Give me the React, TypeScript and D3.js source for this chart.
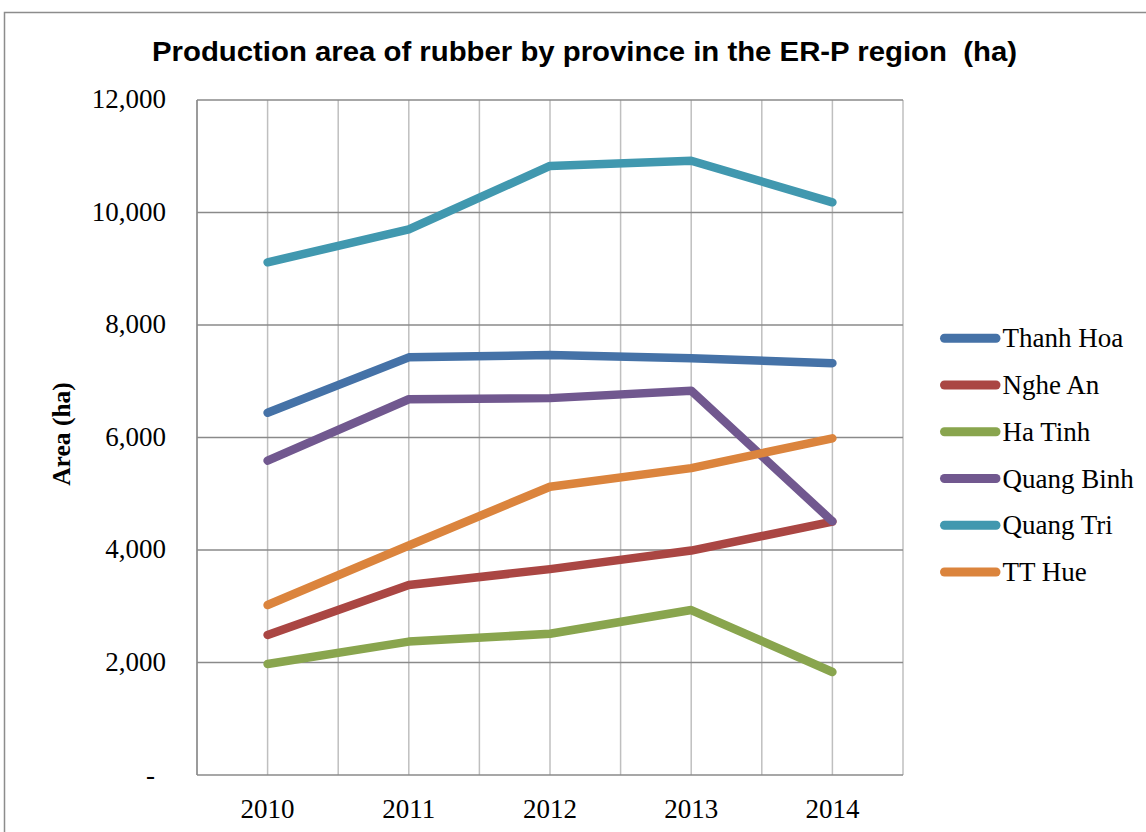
import React from "react";
import * as d3 from "d3";

const years = ["2010", "2011", "2012", "2013", "2014"];
const seriesNames = ["Thanh Hoa", "Nghe An", "Ha Tinh", "Quang Binh", "Quang Tri", "TT Hue"];
const thanhHoa = [6440, 7425, 7465, 7410, 7320];
const ngheAn = [2490, 3378, 3660, 3990, 4505];
const haTinh = [1973, 2372, 2510, 2933, 1831];
const quangBinh = [5588, 6680, 6700, 6832, 4510];
const quangTri = [9114, 9700, 10827, 10920, 10181];
const ttHue = [3022, 4080, 5125, 5455, 5986];
const seriesColors = ["#4572A7", "#AA4643", "#89A54E", "#71588F", "#4198AF", "#DB843D"];
const yTicks = [0, 2000, 4000, 6000, 8000, 10000, 12000];

const seriesValues = [thanhHoa, ngheAn, haTinh, quangBinh, quangTri, ttHue];

export default function App() {
  const W = 1146, H = 832;
  const left = 197, right = 903, top = 100, bottom = 775;
  const x = d3.scaleBand<string>().domain(years).range([left, right]);
  const cx = (c: string) => (x(c) as number) + x.bandwidth() / 2;
  const y = d3.scaleLinear().domain([0, 12000]).range([bottom, top]);
  const line = d3
    .line<number>()
    .x((_, i) => cx(years[i]))
    .y((d) => y(d));

  const vLines: number[] = [];
  years.forEach((c) => {
    vLines.push(x(c) as number);
    vLines.push(cx(c));
  });
  vLines.push(right);

  const fmt = d3.format(",");
  const serif = "'Liberation Serif', 'Times New Roman', serif";

  return (
    <svg
      width={W}
      height={H}
      style={{ position: "absolute", left: 0, top: 0, background: "#fff" }}
    >
      <rect x={4.5} y={12.5} width={W + 10} height={H + 10} fill="#fff" stroke="#8c8c8c" strokeWidth={1.5} />
      <text
        x={584.5}
        y={61}
        textAnchor="middle"
        fontFamily="'Liberation Sans', Arial, sans-serif"
        fontWeight="bold"
        fontSize={28}
        textLength={865}
        lengthAdjust="spacingAndGlyphs"
        fill="#000"
        style={{ whiteSpace: "pre" }}
      >
        {"Production area of rubber by province in the ER-P region\u00A0 (ha)"}
      </text>
      {/* vertical gridlines */}
      {vLines.map((vx, i) => (
        <line key={"v" + i} x1={vx} x2={vx} y1={top} y2={bottom} stroke="#bfbfbf" strokeWidth={1.5} />
      ))}
      {/* horizontal gridlines */}
      {yTicks.filter((t) => t > 0).map((t) => (
        <line key={"h" + t} x1={left} x2={right} y1={y(t)} y2={y(t)} stroke="#8a8a8a" strokeWidth={1.5} />
      ))}
      {/* axes */}
      <line x1={left} x2={left} y1={top} y2={bottom} stroke="#8a8a8a" strokeWidth={1.5} />
      <line x1={left} x2={right} y1={bottom} y2={bottom} stroke="#8a8a8a" strokeWidth={1.5} />
      {/* y tick labels */}
      {yTicks.map((t) =>
        t === 0 ? (
          <text key={"yl" + t} x={155} y={y(t) + 9} textAnchor="end" fontFamily={serif} fontSize={27} fill="#000">
            -
          </text>
        ) : (
          <text key={"yl" + t} x={166} y={y(t) + 8} textAnchor="end" fontFamily={serif} fontSize={27} fill="#000">
            {fmt(t)}
          </text>
        )
      )}
      {/* x labels */}
      {years.map((c) => (
        <text key={"xl" + c} x={cx(c)} y={818} textAnchor="middle" fontFamily={serif} fontSize={27} fill="#000">
          {c}
        </text>
      ))}
      {/* y axis title */}
      <text
        transform={`translate(70, 434) rotate(-90)`}
        textAnchor="middle"
        fontFamily={serif}
        fontWeight="bold"
        fontSize={25.5}
        fill="#000"
      >
        Area (ha)
      </text>
      {/* series */}
      {seriesValues.map((vals, i) => (
        <path
          key={"s" + i}
          d={line(vals) as string}
          fill="none"
          stroke={seriesColors[i]}
          strokeWidth={8.5}
          strokeLinecap="round"
          strokeLinejoin="round"
        />
      ))}
      {/* legend */}
      {seriesNames.map((n, i) => {
        const ly = 338.3 + i * 46.75;
        return (
          <g key={"lg" + i}>
            <line x1={944.5} x2={996} y1={ly} y2={ly} stroke={seriesColors[i]} strokeWidth={9} strokeLinecap="round" />
            <text x={1002.5} y={ly + 9} fontFamily={serif} fontSize={27} fill="#000">
              {n}
            </text>
          </g>
        );
      })}
    </svg>
  );
}
